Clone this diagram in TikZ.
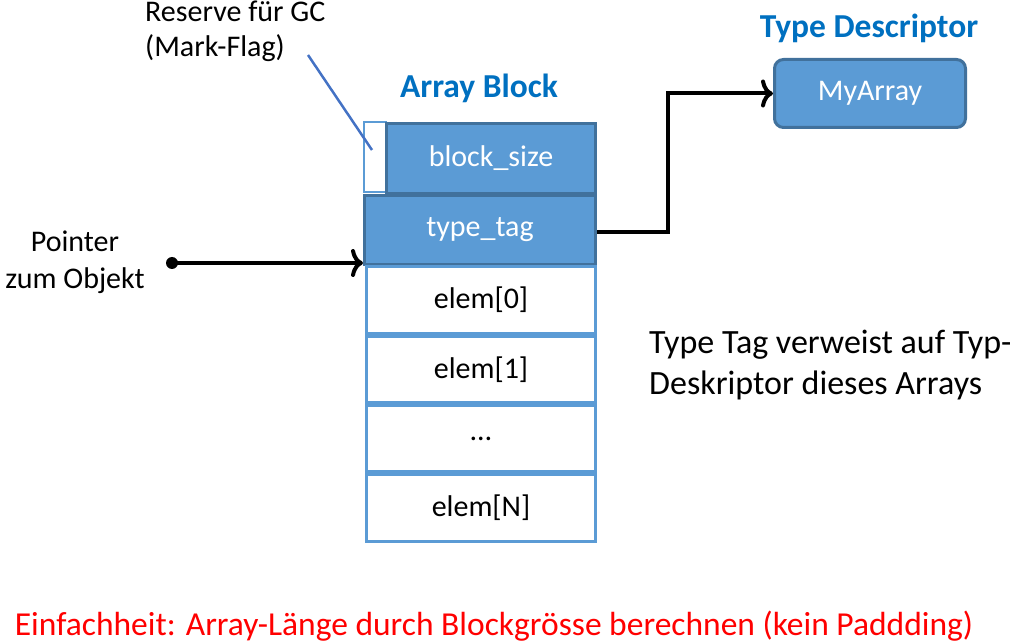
\documentclass[tikz,border=0pt]{standalone}
\usepackage{fontspec}
\setmainfont{Carlito}
\usetikzlibrary{arrows.meta}
\definecolor{accent}{HTML}{5B9BD5}
\definecolor{accentdark}{HTML}{41719C}
\definecolor{titleblue}{HTML}{0070C0}
\definecolor{lineblue}{HTML}{4472C4}
\begin{document}
\begin{tikzpicture}[x=1pt,y=-1pt,
  filled/.style={draw=accentdark,fill=accent,line width=3pt,text=white,font=\fontsize{30}{34}\selectfont,anchor=north west,inner sep=0pt},
  elembox/.style={draw=accent,fill=white,line width=3pt,text=black,font=\fontsize{30}{34}\selectfont,anchor=north west,inner sep=0pt},
  title/.style={font=\bfseries\fontsize{33.5}{38}\selectfont,text=titleblue},
  plain/.style={font=\fontsize{30}{35}\selectfont,align=center},
  conn/.style={line width=4pt,-{To[length=12pt,width=28pt,line width=4pt]}}
]
\useasboundingbox (0,0) rectangle (1010,644);
% reserve outline
\draw[accent,line width=2pt] (364,122) rectangle (386,192);
\node[filled,minimum width=209pt,minimum height=70pt] (bs) at (385,122) {block\_size};
\node[filled,minimum width=231pt,minimum height=69pt] (tt) at (363,194) {type\_tag};
\node[elembox,minimum width=229pt,minimum height=67pt] (e0) at (365,265) {elem[0]};
\node[elembox,minimum width=229pt,minimum height=66pt] (e1) at (365,335) {elem[1]};
\node[elembox,minimum width=229pt,minimum height=66pt] (ed) at (365,404) {…};
\node[elembox,minimum width=229pt,minimum height=67pt] (eN) at (365,473) {elem[N]};
\node[filled,rounded corners=9pt,minimum width=191pt,minimum height=68pt] (my) at (773,58) {MyArray};
\node[title] (abt) at (479,88) {Array Block};
\node[title] (tdt) at (869,28) {Type Descriptor};
\node[plain,anchor=north west,align=left,inner sep=0pt] (res) at (145,1) {Reserve für GC\\(Mark-Flag)};
\coordinate (resend) at (372,150);
\draw[lineblue,line width=2.5pt] (308,55) -- (resend);
\node[plain,font=\fontsize{30}{37}\selectfont] (ptr) at (75,262) {Pointer\\zum Objekt};
\coordinate (dot) at (172,263);
\fill (dot) circle (6pt);
\draw[conn] (dot) -- (dot -| tt.west);
\draw[conn] (tt.east) ++(0,2) coordinate (tte) -- ++(71,0) |- (my.west);
\node[font=\fontsize{34}{41}\selectfont,align=left,anchor=north west,inner sep=0pt] (note) at (649,330) {Type Tag verweist auf Typ-\\Deskriptor dieses Arrays};
\node[font=\fontsize{33.5}{40}\selectfont,text=red] (foot) at (494,626) {Einfachheit: Array-Länge durch Blockgrösse berechnen (kein Paddding)};
\end{tikzpicture}
\end{document}
